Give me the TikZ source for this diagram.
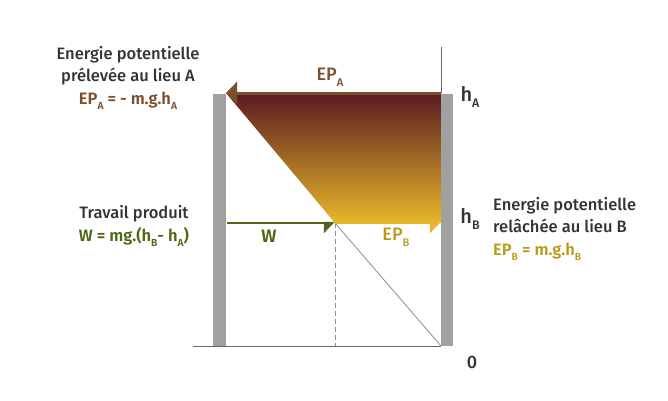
\documentclass[tikz,border=0pt]{standalone}
\usepackage{fontspec}
\setmainfont{Fira Sans}[UprightFont={* Medium},BoldFont={* SemiBold}]
\usetikzlibrary{arrows.meta}
\definecolor{brownA}{HTML}{7B4E2C}
\definecolor{darkA}{HTML}{5A1A22}
\definecolor{goldB}{HTML}{E6B72A}
\definecolor{textB}{HTML}{BC9A1C}
\definecolor{workW}{HTML}{4E6714}
\definecolor{wallgray}{HTML}{A0A0A0}
\definecolor{ink}{HTML}{333333}
\newcommand\lowsub[1]{\raisebox{-.6ex}{\scalebox{.62}{#1}}}

\begin{document}
\begin{tikzpicture}[x=1pt,y=-1pt,
  txt/.style={font=\fontsize{16.5}{22.5}\selectfont,text=ink,inner sep=0pt},
  big/.style={font=\fontsize{18}{20}\selectfont,inner sep=0pt},
  wall/.style={fill=wallgray,draw=none},
  vector/.style={line width=3pt,-{Triangle[length=11pt,width=22pt]}},
  halfvector/.style={line width=2.5pt,-{Triangle[harpoon,swap,length=10pt,width=20pt]}}]
  \useasboundingbox (0,0) rectangle (668,400);
  \coordinate (topL) at (226,93);
  \coordinate (topR) at (441,93);
  \coordinate (levB) at (441,223);
  \coordinate (cross) at (335,223);
  \coordinate (zero) at (441,346);
  \coordinate (startW) at (227,223);
  \coordinate (foot) at (335,346);
  \coordinate (axisL) at (193,346);
  \coordinate (axisT) at (441,47);

  % energy block
  \shade[top color=darkA,bottom color=goldB] (topL) -- (topR) -- (levB) -- (cross) -- cycle;

  % walls and axes
  \fill[wall] (213,94) rectangle (226,346);
  \fill[wall] (441,94) rectangle (453,346);
  \draw[gray!80!black,line width=.8pt] (axisT) -- (topR);
  \draw[gray!80!black,line width=.8pt] (axisL) -- (zero);
  \draw[gray!90,line width=.8pt] (cross) -- (zero);
  \draw[gray!90,line width=.7pt,dash pattern=on 5pt off 3pt] (cross) -- (foot);

  % arrows
  \draw[vector,brownA] (topR) -- (topL);
  \draw[halfvector,workW] (startW) -- (cross);
  \draw[halfvector,goldB] (cross) -- (levB);

  % labels in the figure
  \node[big,text=brownA] (labEPA) at (330,77) {EP\lowsub{A}};
  \node[big,text=workW,font=\fontsize{18}{20}\bfseries] (labW) at (269,236) {W};
  \node[big,text=textB] (labEPB) at (396,237) {EP\lowsub{B}};
  \node[big,text=ink,font=\fontsize{20}{20}\selectfont] (levA) at (470,97) {h\lowsub{A}};
  \node[big,text=ink,font=\fontsize{20}{20}\selectfont] (levBtxt) at (470,219) {h\lowsub{B}};
  \node[txt,font=\fontsize{18}{20}\selectfont] (lev0) at (472,362) {0};

  % side texts
  \node[txt,align=center] (infoA) at (128,78) {Energie potentielle\\prélevée au lieu A\\
    \textcolor{brownA}{\bfseries EP\lowsub{A} = - m.g.h\lowsub{A}}};
  \node[txt,align=center] (infoW) at (134,226) {Travail produit\\
    \textcolor{workW}{\bfseries W = mg.(h\lowsub{B}- h\lowsub{A})}};
  \node[txt,align=left,anchor=west] (infoB) at (493,229) {Energie potentielle\\relâchée au lieu B\\
    \textcolor{textB}{\bfseries EP\lowsub{B} = m.g.h\lowsub{B}}};
\end{tikzpicture}
\end{document}
